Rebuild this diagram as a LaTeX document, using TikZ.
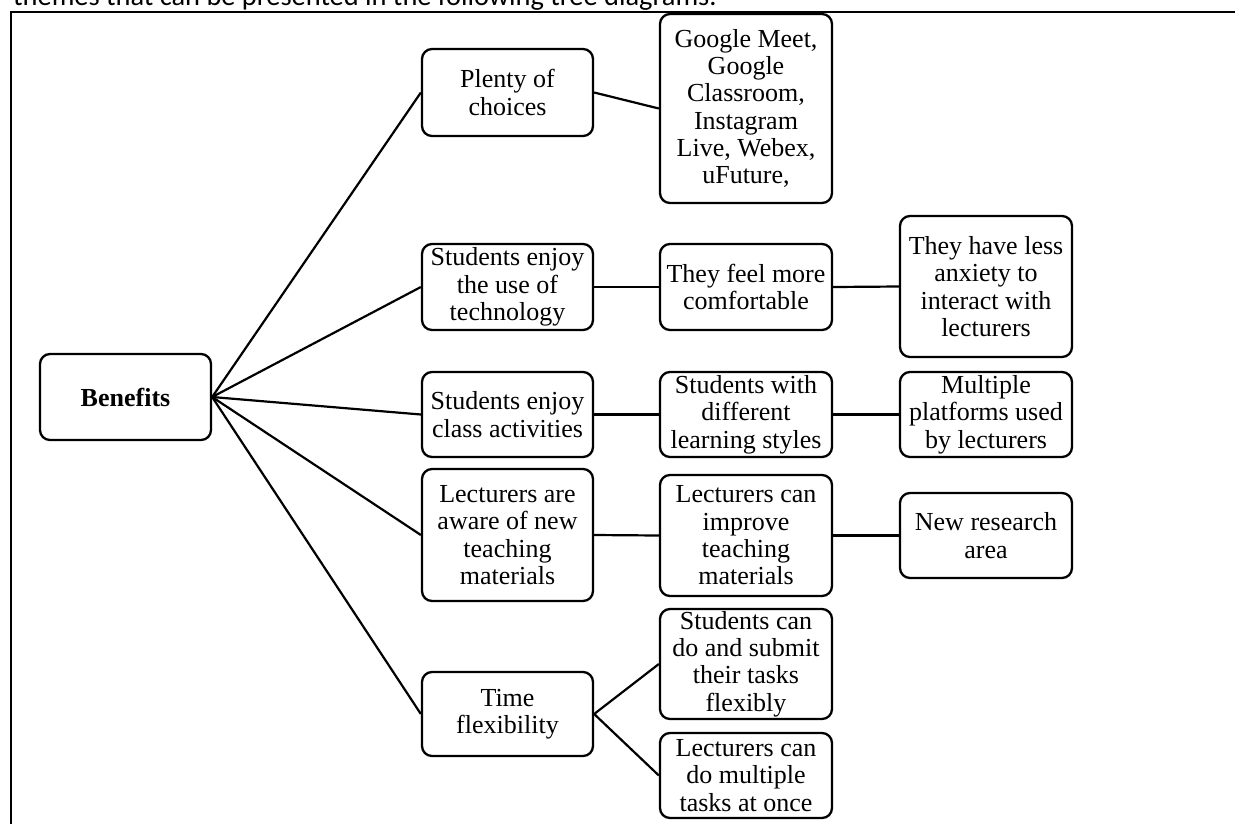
\documentclass[tikz,border=0pt]{standalone}
\usepackage{fontspec}
\setmainfont{Liberation Serif}
\newfontfamily\captionfont{Carlito}
\begin{document}
\begin{tikzpicture}[x=1pt,y=-1pt,
  box/.style={draw, line width=2.3pt, rounded corners=10pt, align=center,
    inner sep=2pt, minimum width=171pt,
    font=\fontsize{26}{27.3}\selectfont},
  conn/.style={draw, line width=2.2pt},
  frame/.style={draw, line width=1.8pt}]
\useasboundingbox (0,0) rectangle (1235,823);
\clip (0,0) rectangle (1235,823);
% caption (cut off at the top)
\node[anchor=base west, inner sep=0, font=\fontsize{28.4}{32}\selectfont\captionfont] (cap) at (13,5)
  {themes that can be presented in the following tree diagrams.};
% frame
\coordinate (fr1) at (1236,12);
\coordinate (fr2) at (11,12);
\coordinate (fr3) at (11,824);
\draw[frame] (fr1) -- (fr2) -- (fr3);
% root
\node[box, minimum height=86pt] (B) at (125.5,397) {\textbf{Benefits}};
% column 2
\node[box, minimum height=87pt] (P) at (507.5,92.5) {Plenty of\\choices};
\node[box, minimum height=86pt] (S1) at (507.5,287) {Students enjoy\\the use of\\technology};
\node[box, minimum height=85pt] (S2) at (507.5,414.5) {Students enjoy\\class activities};
\node[box, minimum height=132pt] (L) at (507.5,535) {Lecturers are\\aware of new\\teaching\\materials};
\node[box, minimum height=84pt] (T) at (507.5,714) {Time\\flexibility};
% column 3
\node[box, minimum width=172pt, minimum height=189pt] (G) at (746,108.5)
  {Google Meet,\\Google\\Classroom,\\Instagram\\Live, Webex,\\uFuture,};
\node[box, minimum width=172pt, minimum height=86pt] (F) at (746,287) {They feel more\\comfortable};
\node[box, minimum width=172pt, minimum height=85pt] (D) at (746,414.5) {Students with\\different\\learning styles};
\node[box, minimum width=172pt, minimum height=121pt] (I) at (746,535.5) {Lecturers can\\improve\\teaching\\materials};
\node[box, minimum width=172pt, minimum height=110pt] (SC) at (746,664) {Students can\\do and submit\\their tasks\\flexibly};
\node[box, minimum width=172pt, minimum height=85pt] (LC) at (746,775.5) {Lecturers can\\do multiple\\tasks at once};
% column 4
\node[box, minimum width=172pt, minimum height=141pt] (A) at (986,286.5) {They have less\\anxiety to\\interact with\\lecturers};
\node[box, minimum width=172pt, minimum height=85pt] (M) at (986,414.5) {Multiple\\platforms used\\by lecturers};
\node[box, minimum width=172pt, minimum height=85pt] (N) at (986,535.5) {New research\\area};
% connectors
\draw[conn] (B.east) -- (P.west);
\draw[conn] (B.east) -- (S1.west);
\draw[conn] (B.east) -- (S2.west);
\draw[conn] (B.east) -- (L.west);
\draw[conn] (B.east) -- (T.west);
\draw[conn] (P.east) -- (G.west);
\draw[conn] (S1.east) -- (F.west);
\draw[conn] (F.east) -- (A.west);
\draw[conn] (S2.east) -- (D.west);
\draw[conn] (D.east) -- (M.west);
\draw[conn] (L.east) -- (I.west);
\draw[conn] (I.east) -- (N.west);
\draw[conn] (T.east) -- (SC.west);
\draw[conn] (T.east) -- (LC.west);
\end{tikzpicture}
\end{document}
